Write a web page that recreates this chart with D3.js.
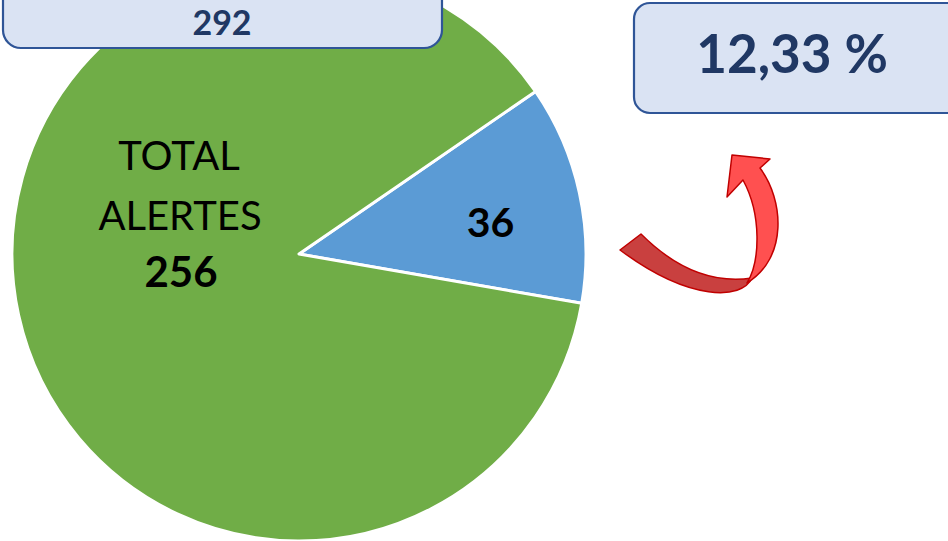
<!DOCTYPE html>
<html>
<head>
<meta charset="utf-8">
<script src="https://cdn.jsdelivr.net/npm/d3@7"></script>
<style>
  html, body { margin: 0; padding: 0; background: #ffffff; }
  svg { display: block; }
</style>
</head>
<body>
<svg id="chart" width="948" height="541"></svg>
<script>
// ---- data ----
const categories = ["Alertes 36", "Total alertes"];
const values = [36, 256];
const sliceLabels = ["36", "TOTAL|ALERTES|256"];
const totalLabel = "292";
const percentLabel = "12,33 %";

// ---- layout ----
const W = 948, H = 541;
const cx = 299, cy = 254, R = 287;
const startDeg = 55.5;
const colors = ["#5b9bd5", "#70ad47"];
const font = "Lato, 'Open Sans', sans-serif";

const svg = d3.select("#chart");

const pie = d3.pie().sort(null).value(d => d)
  .startAngle(startDeg * Math.PI / 180)
  .endAngle(startDeg * Math.PI / 180 + 2 * Math.PI);
const arcs = pie(values);
const arc = d3.arc().innerRadius(0).outerRadius(R);

const g = svg.append("g").attr("transform", `translate(${cx},${cy})`);
g.selectAll("path.slice").data(arcs).join("path")
  .attr("class", "slice")
  .attr("d", arc)
  .attr("fill", (d, i) => colors[i])
  .attr("stroke", "#ffffff")
  .attr("stroke-width", 3)
  .attr("stroke-linejoin", "round");

// slice labels
const labelArc = d3.arc().innerRadius(196).outerRadius(196);
const c0 = labelArc.centroid(arcs[0]);
g.append("text")
  .attr("x", c0[0]).attr("y", c0[1] + 25)
  .attr("text-anchor", "middle")
  .attr("font-family", font).attr("font-weight", "bold")
  .attr("font-size", 41).attr("fill", "#000")
  .text(sliceLabels[0]);

const parts = sliceLabels[1].split("|");
const gl = g.append("text")
  .attr("text-anchor", "middle")
  .attr("font-family", font).attr("fill", "#000");
gl.append("tspan").attr("x", -120).attr("y", -84).attr("font-size", 40).text(parts[0]);
gl.append("tspan").attr("x", -119).attr("y", -24).attr("font-size", 40).text(parts[1]);
gl.append("tspan").attr("x", -118).attr("y", 33).attr("font-size", 42).attr("font-weight", "bold").text(parts[2]);

// boxes
function box(x, y, w, h, r, label, fs, tx, ty) {
  svg.append("rect").attr("x", x).attr("y", y).attr("width", w).attr("height", h)
    .attr("rx", r).attr("ry", r)
    .attr("fill", "#dae3f3").attr("stroke", "#2f5597").attr("stroke-width", 2.2);
  svg.append("text").attr("x", tx).attr("y", ty)
    .attr("text-anchor", "middle")
    .attr("font-family", font).attr("font-weight", "bold")
    .attr("font-size", fs).attr("fill", "#203864")
    .text(label);
}
box(3, -30, 439, 78, 18, totalLabel, 34, 222, 35);
box(634, 3, 330, 110, 16, percentLabel, 53, 792, 73);

// curved arrow (decoration)
svg.append("path")
  .attr("d", "M620,250 L641,234 C675,268 712,284 752,278 C742,300 690,302 620,250 Z")
  .attr("fill", "#c9403f").attr("stroke", "#c00000").attr("stroke-width", 1.5)
  .attr("stroke-linejoin", "round");
svg.append("path")
  .attr("d", "M747,283 C760,262 762,215 743,180 L727,197 L732,155 L770,159 L760,168 C784,200 788,258 747,283 Z")
  .attr("fill", "#ff5050").attr("stroke", "#c00000").attr("stroke-width", 1.5)
  .attr("stroke-linejoin", "round");
</script>
</body>
</html>
